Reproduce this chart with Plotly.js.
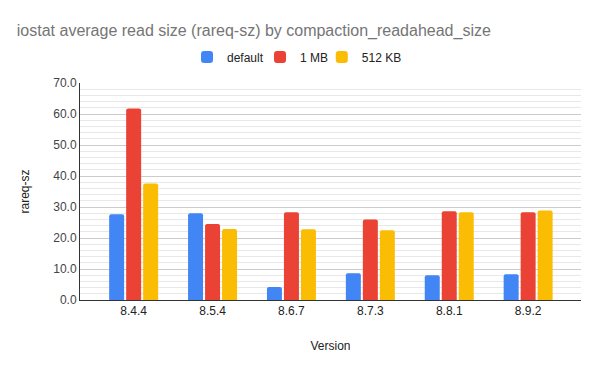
<!DOCTYPE html>
<html><head><meta charset="utf-8">
<script src="https://cdn.plot.ly/plotly-3.0.1.min.js"></script>
<style>html,body{margin:0;padding:0;background:#fff}#c{width:600px;height:371px}</style>
</head><body><div id="c"></div>
<script>
const versions = ["8.4.4","8.5.4","8.6.7","8.7.3","8.8.1","8.9.2"];
const defaultVals = [27.7, 28.0, 4.2, 8.6, 8.0, 8.3];
const oneMBVals = [61.8, 24.5, 28.3, 26.0, 28.6, 28.3];
const kb512Vals = [37.6, 22.9, 22.8, 22.5, 28.3, 28.9];
const seriesNames = ["default","1 MB","512 KB"];
const colors = ["#4285F4","#EA4335","#FBBC04"];
const yTicks = [0,10,20,30,40,50,60,70];

const font = "Liberation Sans, Arial, sans-serif";
const legendIds = ["legend","legend2","legend3"];
const legendX = [0.2136, 0.3593, 0.4826];
const data = [defaultVals, oneMBVals, kb512Vals].map((v,i)=>({
  type:"bar", x:versions, y:v, name:seriesNames[i], legend:legendIds[i],
  marker:{color:colors[i], cornerradius:2}, hoverinfo:"none"
}));
const legendBase = (x)=>({orientation:"h", x:x, xanchor:"left", y:1.12, yanchor:"middle",
    font:{family:font, size:12, color:"#222"}, itemwidth:30, bgcolor:"rgba(0,0,0,0)"});
const layout = {
  width:600, height:371,
  margin:{l:80, r:19, t:83, b:71},
  paper_bgcolor:"#fff", plot_bgcolor:"#fff",
  font:{family:font, size:12, color:"#222"},
  title:{text:"iostat average read size (rareq-sz) by compaction_readahead_size",
    x:0.028, xanchor:"left", y:0.918, yanchor:"middle",
    font:{family:font, size:16, color:"#757575"}},
  showlegend:true,
  legend:legendBase(legendX[0]),
  legend2:legendBase(legendX[1]),
  legend3:legendBase(legendX[2]),
  barmode:"group", bargap:0.354, bargroupgap:0.118,
  xaxis:{title:{text:"Version", font:{family:font,size:12,color:"#222"}, standoff:24},
    range:[-0.68, 5.67],
    tickfont:{family:font,size:12,color:"#222"},
    showline:true, linecolor:"#333", linewidth:1, showgrid:false, ticks:""},
  yaxis:{title:{text:"rareq-sz", font:{family:font,size:12,color:"#222"}, standoff:21},
    range:[0,70], tickvals:yTicks, ticktext:yTicks.map(v=>v.toFixed(1)),
    tickfont:{family:font,size:12,color:"#444"},
    showline:true, linecolor:"#333", linewidth:1,
    gridcolor:"#cccccc", gridwidth:1, zeroline:false,
    minor:{dtick:2, showgrid:true, gridcolor:"#e8e8e8", gridwidth:1}}
};
Plotly.newPlot("c", data, layout, {staticPlot:true, displayModeBar:false});
</script></body></html>
